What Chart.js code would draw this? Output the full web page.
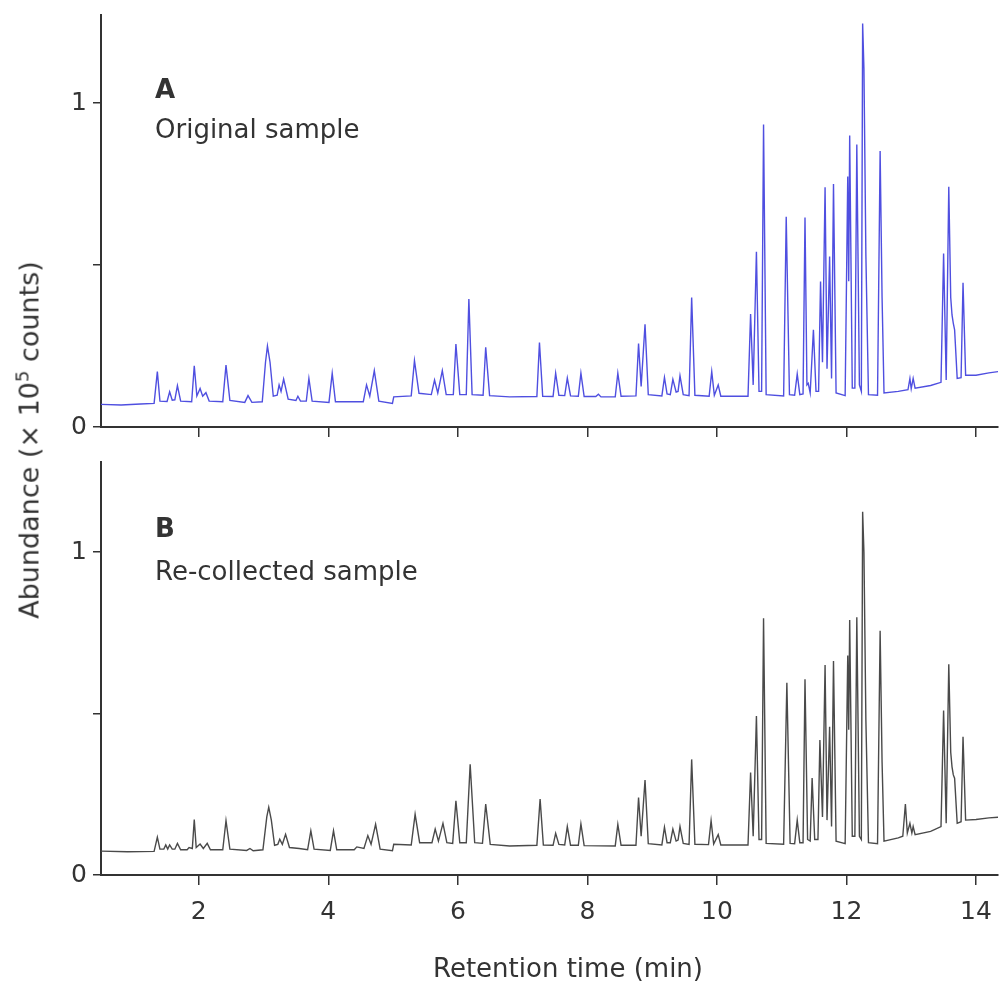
<!DOCTYPE html>
<html>
<head>
<meta charset="utf-8">
<script src="https://cdn.jsdelivr.net/npm/chart.js@4.4.1/dist/chart.umd.min.js"></script>
<style>
  body { margin: 0; width: 1000px; height: 985px; overflow: hidden; background: #fff;
         font-family: 'DejaVu Sans', sans-serif; color: #333; }
  canvas { position: absolute; left: 0; }
  #chartA { top: 0; }
  #chartB { top: 445px; }
  .note { position: absolute; left: 155px; font-size: 26px; line-height: 26px; white-space: nowrap; }
  .note.bold { font-weight: bold; }
  .ytitle { position: absolute; left: 28px; top: 440px; font-size: 27px; white-space: nowrap;
            transform: translate(-50%, -50%) rotate(-90deg); }
  .xtitle { position: absolute; left: 568px; top: 968px; font-size: 26px; white-space: nowrap;
            transform: translate(-50%, -50%); }
  sup { font-size: 18px; }
</style>
</head>
<body>
<canvas id="chartA" width="1000" height="445"></canvas>
<canvas id="chartB" width="1000" height="540"></canvas>
<div class="note bold" style="top:76px">A</div>
<div class="note" style="top:116px">Original sample</div>
<div class="note bold" style="top:515px">B</div>
<div class="note" style="top:558px">Re-collected sample</div>
<div class="ytitle">Abundance (× 10<sup>5</sup> counts)</div>
<div class="xtitle">Retention time (min)</div>
<script>
// retention time (min) -> abundance (x 10^5 counts)
const traceA = [
  [0.49,0.070],[0.80,0.068],[1.10,0.071],[1.31,0.073],[1.36,0.171],[1.40,0.080],[1.51,0.079],[1.55,0.109],
  [1.59,0.083],[1.63,0.084],[1.67,0.128],[1.72,0.080],[1.89,0.078],[1.93,0.189],[1.97,0.096],[2.02,0.119],
  [2.06,0.095],[2.11,0.106],[2.16,0.080],[2.37,0.078],[2.42,0.191],[2.48,0.082],[2.71,0.076],[2.76,0.097],
  [2.82,0.076],[2.98,0.078],[3.03,0.200],[3.06,0.250],[3.10,0.200],[3.15,0.095],[3.21,0.098],[3.24,0.130],
  [3.27,0.110],[3.31,0.148],[3.38,0.086],[3.50,0.082],[3.53,0.095],[3.57,0.080],[3.66,0.080],[3.70,0.150],
  [3.75,0.080],[4.01,0.076],[4.06,0.166],[4.11,0.078],[4.54,0.078],[4.59,0.130],[4.64,0.095],[4.71,0.174],
  [4.78,0.080],[4.99,0.073],[5.01,0.093],[5.28,0.096],[5.33,0.205],[5.40,0.104],[5.59,0.100],[5.64,0.145],
  [5.69,0.105],[5.76,0.174],[5.82,0.100],[5.93,0.100],[5.97,0.256],[6.03,0.100],[6.13,0.100],[6.17,0.395],
  [6.22,0.100],[6.39,0.098],[6.43,0.246],[6.49,0.097],[6.80,0.093],[7.22,0.094],[7.26,0.261],[7.31,0.095],
  [7.47,0.094],[7.51,0.166],[7.56,0.098],[7.65,0.097],[7.69,0.151],[7.74,0.096],[7.86,0.095],[7.90,0.166],
  [7.95,0.094],[8.13,0.094],[8.17,0.101],[8.21,0.093],[8.43,0.093],[8.47,0.166],[8.52,0.095],[8.75,0.096],
  [8.79,0.258],[8.83,0.125],[8.89,0.317],[8.94,0.100],[9.15,0.096],[9.19,0.153],[9.23,0.102],[9.28,0.100],
  [9.32,0.147],[9.37,0.108],[9.40,0.110],[9.43,0.158],[9.48,0.100],[9.57,0.097],[9.61,0.400],[9.66,0.098],
  [9.88,0.095],[9.92,0.171],[9.96,0.098],[10.02,0.130],[10.06,0.095],[10.48,0.095],[10.52,0.349],[10.56,0.130],
  [10.61,0.541],[10.65,0.110],[10.69,0.110],[10.72,0.934],[10.76,0.100],[11.03,0.096],[11.07,0.649],[11.12,0.100],
  [11.20,0.098],[11.24,0.164],[11.28,0.100],[11.33,0.102],[11.36,0.647],[11.39,0.130],[11.41,0.135],[11.44,0.105],
  [11.49,0.300],[11.53,0.110],[11.57,0.110],[11.60,0.449],[11.63,0.200],[11.67,0.740],[11.70,0.180],[11.74,0.526],
  [11.77,0.150],[11.80,0.750],[11.84,0.105],[11.98,0.097],[12.02,0.773],[12.035,0.450],[12.05,0.900],[12.09,0.120],
  [12.13,0.120],[12.16,0.872],[12.20,0.130],[12.23,0.110],[12.25,1.246],[12.27,1.107],[12.30,0.531],[12.34,0.100],
  [12.48,0.098],[12.52,0.852],[12.55,0.400],[12.58,0.105],[12.80,0.110],[12.95,0.115],[12.98,0.150],[13.00,0.118],
  [13.03,0.150],[13.06,0.120],[13.30,0.128],[13.46,0.138],[13.50,0.536],[13.54,0.145],[13.58,0.742],[13.61,0.400],
  [13.63,0.346],[13.65,0.320],[13.67,0.300],[13.71,0.150],[13.77,0.152],[13.80,0.445],[13.84,0.160],[14.00,0.160],
  [14.20,0.167],[14.34,0.171]
]

const traceB = [
  [0.49,0.074],[0.90,0.072],[1.31,0.073],[1.36,0.117],[1.40,0.080],[1.46,0.080],[1.49,0.093],[1.52,0.080],
  [1.55,0.093],[1.59,0.080],[1.63,0.080],[1.67,0.098],[1.72,0.078],[1.82,0.078],[1.85,0.085],[1.90,0.082],
  [1.93,0.172],[1.96,0.085],[2.02,0.096],[2.07,0.082],[2.13,0.098],[2.18,0.078],[2.37,0.078],[2.42,0.168],
  [2.48,0.080],[2.74,0.076],[2.79,0.082],[2.84,0.075],[2.99,0.078],[3.05,0.180],[3.08,0.210],[3.12,0.170],
  [3.17,0.092],[3.22,0.095],[3.25,0.111],[3.29,0.095],[3.34,0.126],[3.40,0.085],[3.55,0.082],[3.68,0.078],
  [3.73,0.137],[3.78,0.080],[4.03,0.076],[4.08,0.137],[4.13,0.078],[4.40,0.078],[4.44,0.087],[4.55,0.082],
  [4.61,0.122],[4.66,0.095],[4.73,0.157],[4.80,0.080],[4.99,0.075],[5.01,0.095],[5.28,0.093],[5.34,0.188],
  [5.41,0.100],[5.60,0.100],[5.65,0.142],[5.70,0.105],[5.77,0.160],[5.83,0.100],[5.92,0.098],[5.97,0.230],
  [6.03,0.100],[6.13,0.100],[6.19,0.343],[6.26,0.100],[6.38,0.098],[6.43,0.220],[6.50,0.095],[6.80,0.090],
  [7.22,0.092],[7.27,0.235],[7.32,0.093],[7.47,0.092],[7.51,0.129],[7.56,0.095],[7.65,0.093],[7.69,0.150],
  [7.74,0.092],[7.86,0.092],[7.90,0.158],[7.95,0.091],[8.43,0.090],[8.47,0.157],[8.52,0.092],[8.75,0.092],
  [8.79,0.240],[8.83,0.120],[8.89,0.294],[8.94,0.097],[9.15,0.093],[9.19,0.148],[9.23,0.100],[9.28,0.100],
  [9.32,0.142],[9.37,0.105],[9.40,0.108],[9.43,0.150],[9.48,0.098],[9.57,0.095],[9.61,0.358],[9.66,0.095],
  [9.87,0.094],[9.91,0.168],[9.95,0.096],[10.02,0.125],[10.06,0.093],[10.48,0.093],[10.52,0.317],[10.56,0.120],
  [10.61,0.492],[10.65,0.110],[10.69,0.110],[10.72,0.795],[10.76,0.098],[11.03,0.095],[11.08,0.595],[11.13,0.098],
  [11.20,0.097],[11.24,0.170],[11.28,0.100],[11.33,0.100],[11.36,0.606],[11.40,0.110],[11.44,0.105],[11.47,0.300],
  [11.51,0.110],[11.56,0.110],[11.59,0.418],[11.63,0.180],[11.67,0.650],[11.70,0.170],[11.74,0.459],[11.77,0.150],
  [11.80,0.663],[11.84,0.105],[11.98,0.097],[12.02,0.680],[12.035,0.450],[12.05,0.790],[12.09,0.120],[12.13,0.120],
  [12.16,0.798],[12.20,0.120],[12.23,0.110],[12.25,1.125],[12.27,1.000],[12.30,0.480],[12.34,0.100],[12.48,0.097],
  [12.52,0.756],[12.55,0.350],[12.58,0.105],[12.80,0.115],[12.87,0.120],[12.91,0.220],[12.94,0.130],[12.98,0.160],
  [13.01,0.130],[13.03,0.150],[13.06,0.125],[13.30,0.135],[13.46,0.150],[13.50,0.509],[13.54,0.160],[13.58,0.653],
  [13.61,0.380],[13.63,0.335],[13.65,0.310],[13.67,0.300],[13.71,0.160],[13.77,0.165],[13.80,0.428],[13.84,0.170],
  [14.00,0.172],[14.20,0.177],[14.34,0.179]
]

const xTicks = [2, 4, 6, 8, 10, 12, 14]
const yTicks = [0, 0.5, 1]
const yTickLabels = ['0', '', '1']

const X_MIN = 0.49
const X_MAX = 14.34
const ink = '#333'
const tickFont = { family: 'DejaVu Sans', size: 25 }

// the label overflow padding Chart.js adds would shift the plot area, so drop it
function noOverflow(s) {
    s.paddingTop = 0
    s.paddingBottom = 0
    s.paddingLeft = 0
    s.paddingRight = 0
}

function panelOptions(yMax, showXLabels, xAxisHeight, padTop) {
    return {
        responsive: false,
        animation: false,
        layout: { padding: { top: padTop, right: 2, left: 0, bottom: 0 } },
        plugins: { legend: { display: false }, tooltip: { enabled: false } },
        elements: { point: { radius: 0 }, line: { tension: 0 } },
        scales: {
            x: {
                type: 'linear',
                min: X_MIN,
                max: X_MAX,
                afterBuildTicks: (s) => { s.ticks = xTicks.map((v) => ({ value: v })) },
                afterFit: (s) => { s.height = xAxisHeight; noOverflow(s) },
                grid: { drawOnChartArea: false, drawTicks: true, tickLength: 10, color: ink, lineWidth: 1.5 },
                border: { display: true, color: ink, width: 2 },
                ticks: {
                    font: tickFont,
                    color: ink,
                    padding: 12,
                    maxRotation: 0,
                    callback: (v) => (showXLabels ? String(v) : ''),
                },
            },
            y: {
                min: 0,
                max: yMax,
                afterBuildTicks: (s) => { s.ticks = yTicks.map((v) => ({ value: v })) },
                afterFit: (s) => { s.width = 101; noOverflow(s) },
                grid: { drawOnChartArea: false, drawTicks: true, tickLength: 8, color: ink, lineWidth: 1.5 },
                border: { display: true, color: ink, width: 2 },
                ticks: {
                    font: tickFont,
                    color: ink,
                    padding: 6,
                    callback: (v) => yTickLabels[yTicks.indexOf(v)],
                },
            },
        },
    }
}

function toPoints(trace) {
    return trace.map((p) => ({ x: p[0], y: p[1] }))
}

new Chart(document.getElementById('chartA'), {
    type: 'line',
    data: {
        datasets: [{
            label: 'Original sample',
            data: toPoints(traceA),
            borderColor: '#4f4fe0',
            borderWidth: 1.4,
        }],
    },
    options: panelOptions(1.272, false, 18, 15),
})

new Chart(document.getElementById('chartB'), {
    type: 'line',
    data: {
        datasets: [{
            label: 'Re-collected sample',
            data: toPoints(traceB),
            borderColor: '#4a4a4a',
            borderWidth: 1.4,
        }],
    },
    options: panelOptions(1.279, true, 110, 17),
})
</script>
</body>
</html>
